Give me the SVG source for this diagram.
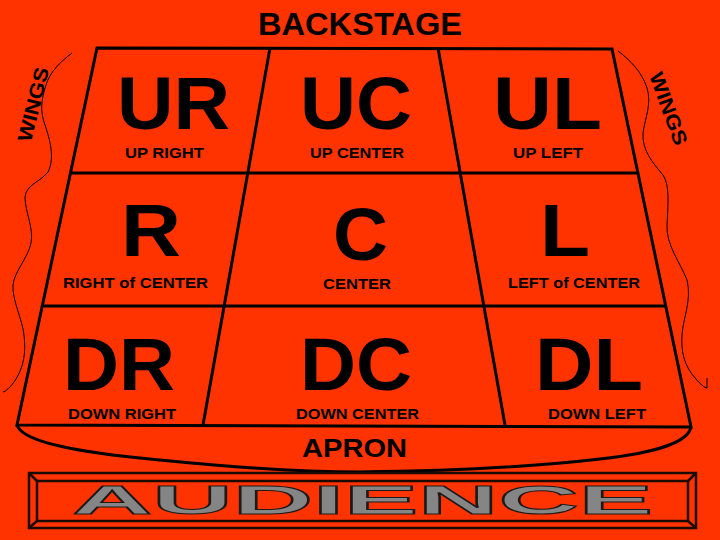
<svg xmlns="http://www.w3.org/2000/svg" width="720" height="540" viewBox="0 0 720 540">
<style>
.bg{fill:#FF3300}
.ln{fill:none;stroke:#000;stroke-width:3;stroke-linejoin:miter}
.wing{fill:none;stroke:#000;stroke-width:1}
.big{font-family:"Liberation Sans",Arial,sans-serif;font-weight:bold;font-size:74px;fill:#000}
.sm{font-family:"Liberation Sans",Arial,sans-serif;font-weight:bold;font-size:14px;fill:#000}
.hd{font-family:"Liberation Sans",Arial,sans-serif;font-weight:bold;fill:#000}
.aud{font-family:"Liberation Sans",Arial,sans-serif;font-weight:bold;font-size:41px;fill:#858585;stroke:#1a1a1a;stroke-width:1}
.frame{fill:none;stroke:#1a0a00;stroke-width:2.5}
</style>
<rect class="bg" x="0" y="0" width="720" height="540"/>

<g id="connectors">
  <polygon class="ln" points="97,48 612,49 691,427 17,425"/>
  <line class="ln" x1="71" y1="173" x2="638" y2="173"/>
  <line class="ln" x1="43" y1="306" x2="666" y2="306"/>
  <line class="ln" x1="270" y1="48" x2="203" y2="425"/>
  <line class="ln" x1="438" y1="48" x2="505" y2="425"/>
  <path class="ln" d="M17,425 C22,442 80,452 140,458 C220,466 290,472 360,472 C450,471 540,466 600,459 C660,452 688,442 691,427"/>
  <path class="wing" d="M72,53 C60,62 50,72 46,85 C41,100 40,112 45,125 C50,140 55,158 48,172 C40,182 26,185 25,197 C25,212 34,228 31,243 C28,258 14,272 13,285 C12,300 22,318 24,335 C26,352 24,366 16,379 C11,387 5,392 3,392"/>
  <path class="wing" d="M618,51 C630,60 642,72 647,88 C652,104 645,118 643,133 C642,150 652,162 663,175 C670,185 668,205 667,225 C666,245 680,262 687,280 C692,300 683,318 682,335 C681,352 684,366 696,379 C700,384 705,388 707,388 L707,378"/>
</g>

<g id="backstage"><text class="hd" x="258" y="35" font-size="31" textLength="204" lengthAdjust="spacingAndGlyphs">BACKSTAGE</text></g>

<g id="wings-left"><text class="hd" font-size="20" text-anchor="middle" textLength="76" lengthAdjust="spacingAndGlyphs" transform="translate(40,106) rotate(-76)">WINGS</text></g>
<g id="wings-right"><text class="hd" font-size="20" text-anchor="middle" textLength="76" lengthAdjust="spacingAndGlyphs" transform="translate(662,111) rotate(70)">WINGS</text></g>

<g id="ur">
  <text class="big" x="117" y="129" textLength="113" lengthAdjust="spacingAndGlyphs">UR</text>
  <text class="sm" x="125" y="157.5" textLength="79" lengthAdjust="spacingAndGlyphs">UP RIGHT</text>
</g>
<g id="uc">
  <text class="big" x="300" y="129" textLength="112" lengthAdjust="spacingAndGlyphs">UC</text>
  <text class="sm" x="310" y="157.5" textLength="94" lengthAdjust="spacingAndGlyphs">UP CENTER</text>
</g>
<g id="ul">
  <text class="big" x="493" y="129" textLength="109" lengthAdjust="spacingAndGlyphs">UL</text>
  <text class="sm" x="513" y="157.5" textLength="70" lengthAdjust="spacingAndGlyphs">UP LEFT</text>
</g>
<g id="r">
  <text class="big" x="121" y="256" textLength="60" lengthAdjust="spacingAndGlyphs">R</text>
  <text class="sm" x="63" y="288" textLength="145" lengthAdjust="spacingAndGlyphs">RIGHT of CENTER</text>
</g>
<g id="c">
  <text class="big" x="333" y="260" textLength="55" lengthAdjust="spacingAndGlyphs">C</text>
  <text class="sm" x="323" y="289" textLength="68" lengthAdjust="spacingAndGlyphs">CENTER</text>
</g>
<g id="l">
  <text class="big" x="540" y="256" textLength="50" lengthAdjust="spacingAndGlyphs">L</text>
  <text class="sm" x="508" y="288" textLength="132" lengthAdjust="spacingAndGlyphs">LEFT of CENTER</text>
</g>
<g id="dr">
  <text class="big" x="63" y="390" font-size="72" textLength="112" lengthAdjust="spacingAndGlyphs">DR</text>
  <text class="sm" x="68" y="418.5" textLength="108" lengthAdjust="spacingAndGlyphs">DOWN RIGHT</text>
</g>
<g id="dc">
  <text class="big" x="300" y="390" font-size="72" textLength="112" lengthAdjust="spacingAndGlyphs">DC</text>
  <text class="sm" x="296" y="418.5" textLength="123" lengthAdjust="spacingAndGlyphs">DOWN CENTER</text>
</g>
<g id="dl">
  <text class="big" x="535" y="390" font-size="72" textLength="108" lengthAdjust="spacingAndGlyphs">DL</text>
  <text class="sm" x="548" y="418.5" textLength="98" lengthAdjust="spacingAndGlyphs">DOWN LEFT</text>
</g>
<g id="apron"><text class="hd" x="302" y="457" font-size="25" textLength="105" lengthAdjust="spacingAndGlyphs">APRON</text></g>

<g id="audience">
  <rect class="frame" x="29" y="473" width="667" height="55"/>
  <rect class="frame" x="37" y="481" width="651" height="40"/>
  <path class="frame" d="M29,473 L37,481 M29,528 L37,521 M696,473 L688,481 M696,528 L688,521"/>
  <text class="aud" x="72" y="514" textLength="581" lengthAdjust="spacingAndGlyphs">AUDIENCE</text>
</g>
</svg>
